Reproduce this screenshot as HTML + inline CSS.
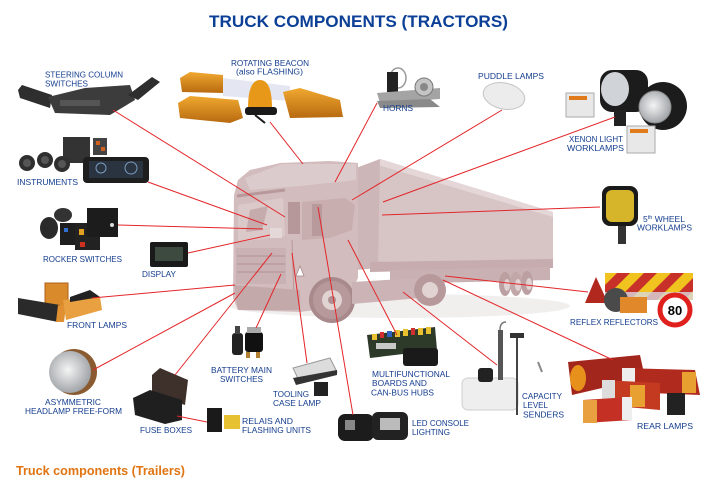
<!DOCTYPE html>
<html><head><meta charset="utf-8"><style>
html,body{margin:0;padding:0;background:#fff;}
svg{display:block;}
text{font-family:"Liberation Sans",sans-serif;}
.l{font-size:8.5px;fill:#143d8e;}
</style></head><body>
<svg width="715" height="486" viewBox="0 0 715 486" xmlns="http://www.w3.org/2000/svg">
<defs>
<clipPath id="bd"><rect x="605" y="273" width="88" height="27"/></clipPath>
<radialGradient id="hl" cx="0.45" cy="0.45" r="0.6"><stop offset="0" stop-color="#f4f4f4"/><stop offset="1" stop-color="#9a9ea2"/></radialGradient>
<linearGradient id="amb" x1="0" y1="0" x2="0" y2="1"><stop offset="0" stop-color="#f0a830"/><stop offset="1" stop-color="#b86a10"/></linearGradient>
</defs>
<rect width="715" height="486" fill="#fff"/>

<!-- Title -->
<text x="209" y="27" font-size="16.5" font-weight="bold" fill="#0c3f96" textLength="299" lengthAdjust="spacingAndGlyphs">TRUCK COMPONENTS (TRACTORS)</text>

<!-- TRUCK -->
<ellipse cx="400" cy="306" rx="170" ry="12" fill="#f1eeee"/>
<polygon points="370,165 380,159 553,212 553,266 370,270" fill="#d7c4c5"/>
<polygon points="380,159 553,212 553,217 378,165" fill="#e5d7d8"/>
<polygon points="356,168 380,159 378,268 356,270" fill="#cdb6b8"/>
<polygon points="370,262 553,259 553,268 370,272" fill="#c6acae"/>
<polygon points="390,270 550,267 550,280 390,284" fill="#c9b0b2"/>
<ellipse cx="505" cy="284" rx="6" ry="12" fill="#bb9fa1"/>
<ellipse cx="516" cy="284" rx="6" ry="12" fill="#c2a7a9"/>
<ellipse cx="527" cy="283" rx="6" ry="12" fill="#bb9fa1"/>
<ellipse cx="507" cy="285" rx="3" ry="6" fill="#e0d2d2"/>
<ellipse cx="518" cy="285" rx="3" ry="6" fill="#e0d2d2"/>
<ellipse cx="529" cy="284" rx="3" ry="6" fill="#e0d2d2"/>
<polygon points="234,195 238,180 250,170 280,163 330,161 358,163 358,278 356,282 352,300 315,310 300,312 238,310 233,298" fill="#d3bcbe"/>
<polygon points="245,178 282,164 356,164 356,180 300,186 250,190" fill="#dccbcc"/>
<polygon points="238,205 283,198 285,236 238,242" fill="#dbc9ca"/>
<polygon points="250,210 268,206 262,230 246,232" fill="#c6abad"/>
<line x1="237" y1="196" x2="285" y2="190" stroke="#b8999b" stroke-width="3"/>
<polygon points="302,202 345,198 355,205 352,230 330,238 302,240" fill="#c9aeb0"/>
<rect x="312" y="204" width="10" height="32" fill="#b89a9c"/>
<rect x="288" y="202" width="12" height="32" fill="#b6979a"/>
<line x1="292" y1="240" x2="294" y2="300" stroke="#b8999b"/>
<rect x="236" y="248" width="50" height="36" fill="#cab1b3"/>
<line x1="237" y1="256" x2="285" y2="256" stroke="#b09193"/>
<line x1="237" y1="264" x2="285" y2="264" stroke="#b09193"/>
<line x1="237" y1="272" x2="285" y2="272" stroke="#b09193"/>
<polygon points="234,285 300,290 300,310 238,310" fill="#c4a9ab"/>
<rect x="270" y="228" width="12" height="10" fill="#e4d8d8"/>
<circle cx="332" cy="300" r="23" fill="#a88a8c"/>
<circle cx="332" cy="300" r="19" fill="#b8999b"/>
<circle cx="332" cy="300" r="10" fill="#e2d3d3"/>
<circle cx="332" cy="300" r="4" fill="#b09092"/>
<polygon points="352,282 420,278 420,298 352,304" fill="#ccb4b6"/>
<circle cx="430" cy="290" r="16" fill="#b8999b"/>
<circle cx="430" cy="290" r="8" fill="#e2d3d3"/>
<polygon points="296,276 300,266 304,276" fill="#fff" stroke="#a88a8c" stroke-width="0.8"/>

<!-- Steering column -->
<polygon points="18,90 22,85 52,95 50,108 20,98" fill="#2e2e2e"/>
<polygon points="48,97 85,88 130,85 135,100 110,115 55,113" fill="#3c3c3c"/>
<polygon points="128,95 152,77 160,82 138,100" fill="#2e2e2e"/>
<rect x="60" y="100" width="40" height="6" fill="#555"/>

<!-- Rotating beacon -->
<polygon points="180,78 190,72 223,75 223,93 182,92" fill="url(#amb)"/>
<polygon points="223,78 290,86 290,101 223,96" fill="#e4e6f2"/>
<polygon points="283,92 300,88 340,100 343,117 290,118" fill="url(#amb)"/>
<polygon points="178,103 190,96 238,100 243,118 230,123 180,118" fill="url(#amb)"/>
<path d="M248,108 Q248,80 260,80 Q272,80 272,108 Z" fill="#e89818"/>
<rect x="245" y="107" width="32" height="8" rx="3" fill="#1a1a1a"/>
<line x1="255" y1="115" x2="265" y2="123" stroke="#1a1a1a" stroke-width="2"/>

<!-- Horns -->
<ellipse cx="398" cy="78" rx="8" ry="10" fill="none" stroke="#999" stroke-width="1.5"/>
<rect x="387" y="72" width="11" height="20" fill="#222"/>
<polygon points="377,93 440,88 440,99 380,103" fill="#a4a4a4"/>
<polygon points="377,101 430,99 440,107 380,108" fill="#8a8a8a"/>
<circle cx="424" cy="87" r="9" fill="#c4c4c4" stroke="#777"/>
<circle cx="424" cy="87" r="4" fill="#888"/>

<!-- Puddle lamp -->
<ellipse cx="504" cy="96" rx="21" ry="13" transform="rotate(12 504 96)" fill="#ececec" stroke="#c4c4c4"/>

<!-- Xenon -->
<rect x="566" y="93" width="28" height="24" fill="#e8e8e8" stroke="#aaa"/>
<rect x="569" y="96" width="18" height="4" fill="#e07a1a"/>
<rect x="600" y="70" width="48" height="42" rx="12" fill="#1c1c1c"/>
<ellipse cx="615" cy="89" rx="14" ry="17" fill="#d0d4d8"/>
<circle cx="663" cy="106" r="24" fill="#1c1c1c"/>
<circle cx="655" cy="107" r="16" fill="url(#hl)" stroke="#888"/>
<rect x="614" y="110" width="12" height="16" fill="#222"/>
<rect x="627" y="126" width="28" height="27" fill="#e8e8e8" stroke="#aaa"/>
<rect x="630" y="129" width="18" height="4" fill="#e07a1a"/>

<!-- 5th wheel -->
<rect x="602" y="186" width="36" height="40" rx="8" fill="#1a1a1a"/>
<rect x="606" y="190" width="28" height="32" rx="6" fill="#d6b52a"/>
<rect x="618" y="226" width="8" height="18" fill="#333"/>

<!-- Reflex -->
<rect x="605" y="273" width="88" height="27" fill="#f0c31e"/>
<g clip-path="url(#bd)" fill="#c8302a">
<polygon points="590,300 603,300 630,273 617,273"/>
<polygon points="617,300 630,300 657,273 644,273"/>
<polygon points="644,300 657,300 684,273 671,273"/>
<polygon points="671,300 684,300 711,273 698,273"/>
</g>
<rect x="605" y="292" width="88" height="8" fill="#d8d8de" opacity="0.8"/>
<polygon points="596,277 608,303 585,303" fill="#b0281e"/>
<circle cx="616" cy="300" r="12" fill="#4a4a4a"/>
<rect x="620" y="297" width="27" height="16" fill="#e0882a"/>
<circle cx="675" cy="310" r="15" fill="#fff" stroke="#e0201c" stroke-width="5"/>
<text x="675" y="315" font-size="13" font-weight="bold" text-anchor="middle" fill="#000">80</text>

<!-- Rear lamps -->
<polygon points="568,362 640,355 645,378 572,395" fill="#a3261c"/>
<ellipse cx="578" cy="378" rx="8" ry="13" fill="#e8901c"/>
<polygon points="622,368 695,370 700,395 625,392" fill="#b02a1e"/>
<rect x="622" y="368" width="13" height="24" fill="#eee"/>
<rect x="682" y="372" width="14" height="21" fill="#e8a030"/>
<polygon points="602,380 660,383 660,410 603,405" fill="#c43a20"/>
<rect x="602" y="380" width="13" height="25" fill="#ddd"/>
<rect x="630" y="385" width="15" height="22" fill="#e8a030"/>
<polygon points="583,400 630,397 632,420 585,423" fill="#c53024"/>
<rect x="583" y="400" width="14" height="23" fill="#e8a040"/>
<rect x="622" y="397" width="10" height="23" fill="#eee"/>
<rect x="667" y="393" width="18" height="22" fill="#222"/>

<!-- Capacity level senders -->
<rect x="462" y="378" width="56" height="32" rx="6" fill="#eeeeee" stroke="#cfcfcf"/>
<rect x="478" y="368" width="15" height="14" rx="3" fill="#222"/>
<rect x="498" y="330" width="5" height="50" fill="#555"/>
<path d="M500,330 Q500,322 506,322" fill="none" stroke="#777" stroke-width="1.5"/>
<line x1="517" y1="333" x2="517" y2="415" stroke="#444" stroke-width="2"/>
<rect x="510" y="333" width="14" height="5" fill="#333"/>
<line x1="538" y1="362" x2="542" y2="372" stroke="#888" stroke-width="2"/>

<!-- Multifunctional boards -->
<polygon points="367,335 435,327 437,350 370,358" fill="#2d3a2a"/>
<rect x="372" y="334" width="5" height="6" fill="#e8c030"/>
<rect x="380" y="332" width="4" height="6" fill="#d03030"/>
<rect x="387" y="331" width="5" height="6" fill="#3060c0"/>
<rect x="395" y="330" width="5" height="7" fill="#e8c030"/>
<rect x="403" y="329" width="5" height="7" fill="#e8c030"/>
<rect x="411" y="328" width="4" height="7" fill="#d03030"/>
<rect x="418" y="328" width="5" height="7" fill="#e8c030"/>
<rect x="426" y="327" width="5" height="7" fill="#e8c030"/>
<rect x="376" y="343" width="20" height="6" fill="#c8c8c8"/>
<rect x="403" y="348" width="35" height="18" rx="3" fill="#1a1a1a"/>

<!-- LED console -->
<rect x="338" y="414" width="36" height="27" rx="7" fill="#1c1c1c"/>
<rect x="372" y="412" width="36" height="28" rx="6" fill="#222"/>
<rect x="380" y="418" width="20" height="12" fill="#bbb"/>
<rect x="345" y="420" width="10" height="10" fill="#888"/>

<!-- Tooling case lamp -->
<polygon points="293,368 330,358 337,372 300,383" fill="#dcdcdc" stroke="#999"/>
<polygon points="293,378 337,370 337,375 296,385" fill="#333"/>
<rect x="314" y="382" width="14" height="14" fill="#222"/>

<!-- Battery main switches -->
<rect x="232" y="333" width="11" height="22" rx="3" fill="#222"/>
<rect x="235" y="326" width="5" height="8" fill="#444"/>
<rect x="245" y="332" width="18" height="20" rx="3" fill="#111"/>
<rect x="247" y="327" width="14" height="6" fill="#aaa"/>
<rect x="246" y="352" width="4" height="6" fill="#b08030"/>
<rect x="256" y="352" width="4" height="6" fill="#b08030"/>

<!-- Relais -->
<rect x="207" y="408" width="15" height="24" fill="#1a1a1a"/>
<rect x="224" y="415" width="16" height="14" fill="#e6c232"/>

<!-- Fuse boxes -->
<polygon points="152,375 160,368 188,380 185,405 152,395" fill="#3e302a"/>
<polygon points="133,398 150,390 182,400 182,420 165,424 135,415" fill="#1f1f1f"/>

<!-- Asymmetric headlamp -->
<circle cx="74" cy="372" r="23" fill="#8a5a30"/>
<circle cx="70" cy="372" r="21" fill="url(#hl)"/>

<!-- Front lamps -->
<rect x="45" y="283" width="23" height="24" fill="#d98a2a" stroke="#b0601a"/>
<polygon points="18,298 60,305 58,322 18,314" fill="#2a2a2a"/>
<polygon points="58,305 66,306 64,322 56,322" fill="#e09030"/>
<polygon points="63,300 100,297 102,310 66,320" fill="#e8a040"/>
<polygon points="70,297 90,290 100,297 70,302" fill="#222"/>

<!-- Display -->
<rect x="150" y="242" width="38" height="25" rx="2" fill="#1a1a1a"/>
<rect x="155" y="247" width="28" height="14" fill="#3c4a40"/>

<!-- Rocker switches -->
<ellipse cx="49" cy="228" rx="9" ry="11" fill="#2a2a2a"/>
<ellipse cx="63" cy="215" rx="9" ry="7" fill="#333"/>
<rect x="60" y="223" width="17" height="22" fill="#1e1e1e"/>
<rect x="64" y="228" width="4" height="4" fill="#3070d0"/>
<rect x="75" y="223" width="25" height="27" fill="#222"/>
<rect x="79" y="229" width="5" height="6" fill="#e0a020"/>
<rect x="80" y="242" width="5" height="5" fill="#d03020"/>
<rect x="87" y="208" width="31" height="29" fill="#1c1c1c"/>
<circle cx="112" cy="225" r="2" fill="#ddd"/>

<!-- Instruments -->
<rect x="63" y="137" width="27" height="26" fill="#333"/>
<rect x="93" y="138" width="14" height="17" fill="#444"/>
<rect x="96" y="141" width="4" height="4" fill="#d06020"/>
<rect x="101" y="147" width="4" height="4" fill="#d06020"/>
<circle cx="27" cy="163" r="8" fill="#2f2f2f"/>
<circle cx="45" cy="160" r="8" fill="#2f2f2f"/>
<circle cx="62" cy="164" r="8" fill="#2f2f2f"/>
<circle cx="27" cy="163" r="4" fill="#555"/>
<circle cx="45" cy="160" r="4" fill="#555"/>
<circle cx="62" cy="164" r="4" fill="#555"/>
<rect x="83" y="157" width="66" height="26" rx="4" fill="#1e1e1e"/>
<rect x="89" y="161" width="54" height="17" fill="#2a3440"/>
<circle cx="101" cy="168" r="5" fill="none" stroke="#7a9ac0"/>
<circle cx="131" cy="168" r="6" fill="none" stroke="#7a9ac0"/>

<!-- CONNECTOR LINES -->
<g stroke="#e3262a" stroke-width="1" fill="none">
<line x1="113" y1="110" x2="285" y2="217"/>
<line x1="148" y1="182" x2="267" y2="225"/>
<line x1="118" y1="225" x2="263" y2="229"/>
<line x1="188" y1="253" x2="270" y2="235"/>
<line x1="92" y1="298" x2="235" y2="285"/>
<line x1="93" y1="370" x2="235" y2="293"/>
<line x1="175" y1="375" x2="272" y2="253"/>
<line x1="256" y1="328" x2="281" y2="274"/>
<line x1="292" y1="253" x2="307" y2="363"/>
<line x1="318" y1="207" x2="353" y2="415"/>
<line x1="348" y1="240" x2="397" y2="335"/>
<line x1="403" y1="292" x2="497" y2="365"/>
<line x1="443" y1="280" x2="613" y2="360"/>
<line x1="445" y1="276" x2="588" y2="292"/>
<line x1="382" y1="215" x2="600" y2="207"/>
<line x1="383" y1="202" x2="615" y2="117"/>
<line x1="352" y1="200" x2="502" y2="110"/>
<line x1="335" y1="182" x2="377" y2="103"/>
<line x1="270" y1="122" x2="303" y2="164"/>
<line x1="177" y1="416" x2="207" y2="422"/>
</g>

<!-- LABELS -->
<g class="l">
<text x="45" y="77.5" textLength="78" lengthAdjust="spacingAndGlyphs">STEERING COLUMN</text>
<text x="45" y="86.5" textLength="43" lengthAdjust="spacingAndGlyphs">SWITCHES</text>
<text x="231" y="66" textLength="78" lengthAdjust="spacingAndGlyphs">ROTATING BEACON</text>
<text x="236" y="74.5" textLength="67" lengthAdjust="spacingAndGlyphs">(also FLASHING)</text>
<text x="17" y="185" textLength="61" lengthAdjust="spacingAndGlyphs">INSTRUMENTS</text>
<text x="383" y="111" textLength="30" lengthAdjust="spacingAndGlyphs">HORNS</text>
<text x="478" y="79" textLength="66" lengthAdjust="spacingAndGlyphs">PUDDLE LAMPS</text>
<text x="569" y="142" textLength="54" lengthAdjust="spacingAndGlyphs">XENON LIGHT</text>
<text x="567" y="151" textLength="57" lengthAdjust="spacingAndGlyphs">WORKLAMPS</text>
<text x="43" y="262" textLength="79" lengthAdjust="spacingAndGlyphs">ROCKER SWITCHES</text>
<text x="142" y="277" textLength="34" lengthAdjust="spacingAndGlyphs">DISPLAY</text>
<text x="67" y="328" textLength="60" lengthAdjust="spacingAndGlyphs">FRONT LAMPS</text>
<text x="643" y="222">5<tspan font-size="5.5" dy="-3">th</tspan><tspan dy="3"> WHEEL</tspan></text>
<text x="637" y="230.5" textLength="55" lengthAdjust="spacingAndGlyphs">WORKLAMPS</text>
<text x="570" y="325" textLength="88" lengthAdjust="spacingAndGlyphs">REFLEX REFLECTORS</text>
<text x="45" y="405" textLength="56" lengthAdjust="spacingAndGlyphs">ASYMMETRIC</text>
<text x="25" y="414" textLength="97" lengthAdjust="spacingAndGlyphs">HEADLAMP FREE-FORM</text>
<text x="211" y="373" textLength="61" lengthAdjust="spacingAndGlyphs">BATTERY MAIN</text>
<text x="220" y="382" textLength="43" lengthAdjust="spacingAndGlyphs">SWITCHES</text>
<text x="273" y="397" textLength="36" lengthAdjust="spacingAndGlyphs">TOOLING</text>
<text x="273" y="406" textLength="48" lengthAdjust="spacingAndGlyphs">CASE LAMP</text>
<text x="140" y="433" textLength="52" lengthAdjust="spacingAndGlyphs">FUSE BOXES</text>
<text x="242" y="424" textLength="51" lengthAdjust="spacingAndGlyphs">RELAIS AND</text>
<text x="242" y="433" textLength="69" lengthAdjust="spacingAndGlyphs">FLASHING UNITS</text>
<text x="372" y="377" textLength="78" lengthAdjust="spacingAndGlyphs">MULTIFUNCTIONAL</text>
<text x="372" y="386" textLength="55" lengthAdjust="spacingAndGlyphs">BOARDS AND</text>
<text x="371" y="395.5" textLength="63" lengthAdjust="spacingAndGlyphs">CAN-BUS HUBS</text>
<text x="522" y="399" textLength="40" lengthAdjust="spacingAndGlyphs">CAPACITY</text>
<text x="523" y="408" textLength="25" lengthAdjust="spacingAndGlyphs">LEVEL</text>
<text x="523" y="417.5" textLength="41" lengthAdjust="spacingAndGlyphs">SENDERS</text>
<text x="637" y="429" textLength="56" lengthAdjust="spacingAndGlyphs">REAR LAMPS</text>
<text x="412" y="426" textLength="57" lengthAdjust="spacingAndGlyphs">LED CONSOLE</text>
<text x="412" y="435" textLength="38" lengthAdjust="spacingAndGlyphs">LIGHTING</text>
</g>

<text x="16" y="475" font-size="12.5" font-weight="bold" fill="#e07412" textLength="169" lengthAdjust="spacingAndGlyphs">Truck components (Trailers)</text>
</svg>
</body></html>
